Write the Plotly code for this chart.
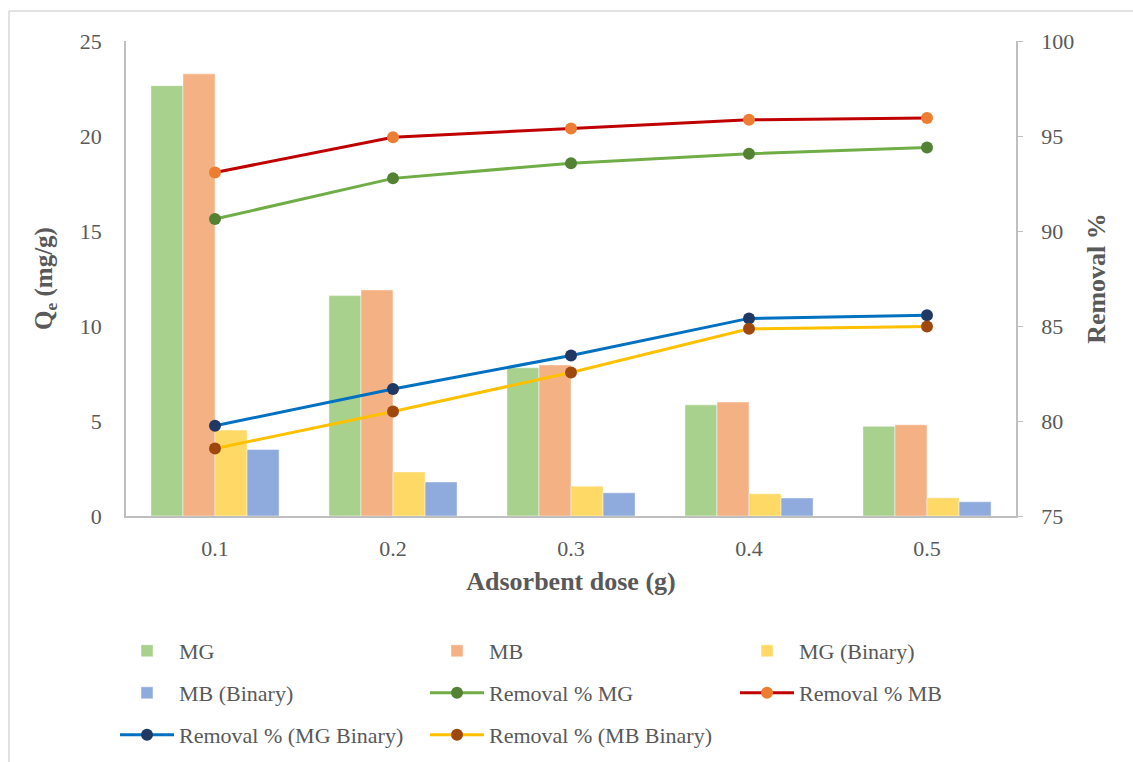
import plotly.graph_objects as go

# Adsorbent dose categories (g)
doses = ["0.1", "0.2", "0.3", "0.4", "0.5"]

# Adsorption capacity Qe (mg/g)
qe_mg = [22.65, 11.6, 7.8, 5.85, 4.72]
qe_mb = [23.27, 11.9, 7.95, 6.0, 4.8]
qe_mg_binary = [4.52, 2.32, 1.57, 1.17, 0.96]
qe_mb_binary = [3.5, 1.79, 1.22, 0.95, 0.75]

# Removal efficiency (%)
rem_mg = [90.63, 92.77, 93.57, 94.07, 94.4]
rem_mb = [93.08, 94.93, 95.4, 95.85, 95.95]
rem_mg_binary = [79.75, 81.68, 83.45, 85.4, 85.57]
rem_mb_binary = [78.55, 80.5, 82.55, 84.85, 84.97]

FONT = "Liberation Serif, Times New Roman, serif"
GREY = "#595959"
AXIS = "#bfbfbf"

# plot area in pixels (for placing legend rows and frame lines)
L, R, T, B = 126, 1016, 41, 516
PW, PH = R - L, B - T


def px_x(x):
    return (x - L) / PW


def px_y(y):
    return (B - y) / PH


fig = go.Figure()

bar_series = [
    ("MG", qe_mg, "#A9D18E", "legend"),
    ("MB", qe_mb, "#F4B183", "legend"),
    ("MG (Binary)", qe_mg_binary, "#FFD966", "legend"),
    ("MB (Binary)", qe_mb_binary, "#8FAADC", "legend2"),
]
for name, vals, color, leg in bar_series:
    fig.add_trace(go.Bar(
        x=doses, y=vals, name=name, legend=leg,
        marker=dict(color=color, line=dict(color="rgba(255,255,255,0.6)", width=0.8)),
    ))

line_series = [
    ("Removal % MG", rem_mg, "#70AD47", "#548235", "legend2"),
    ("Removal % MB", rem_mb, "#C00000", "#ED7D31", "legend2"),
    ("Removal % (MG Binary)", rem_mg_binary, "#0070C0", "#1F3864", "legend3"),
    ("Removal % (MB Binary)", rem_mb_binary, "#FFC000", "#9E480E", "legend3"),
]
for name, vals, lcolor, mcolor, leg in line_series:
    fig.add_trace(go.Scatter(
        x=doses, y=vals, name=name, legend=leg, yaxis="y2",
        mode="lines+markers",
        line=dict(color=lcolor, width=3),
        marker=dict(color=mcolor, size=12),
    ))

legend_common = dict(
    orientation="h", xref="paper", yref="paper",
    x=px_x(115), xanchor="left", yanchor="middle",
    entrywidth=241, entrywidthmode="pixels",
    font=dict(family=FONT, size=22, color=GREY),
    bgcolor="rgba(0,0,0,0)", itemwidth=54,
)

fig.update_layout(
    width=1133, height=762,
    margin=dict(l=L, r=1133 - R, t=T, b=762 - B, autoexpand=False),
    paper_bgcolor="white", plot_bgcolor="white",
    barmode="group", bargap=0.28, bargroupgap=0,
    font=dict(family=FONT, color=GREY),
    legend=dict(legend_common, y=px_y(651)),
    legend2=dict(legend_common, y=px_y(693)),
    legend3=dict(legend_common, y=px_y(735)),
    xaxis=dict(
        type="category", showline=True, linecolor=AXIS, linewidth=1.5,
        ticks="", ticklabelstandoff=12, tickfont=dict(family=FONT, size=22, color=GREY),
        title=dict(text="<b>Adsorbent dose (g)</b>", font=dict(family=FONT, size=26, color=GREY), standoff=12),
        showgrid=False, zeroline=False,
    ),
    yaxis=dict(
        range=[0, 25], dtick=5, showline=True, linecolor=AXIS, linewidth=1.5,
        ticks="", ticklabelstandoff=18, showgrid=False, zeroline=False,
        tickfont=dict(family=FONT, size=22, color=GREY),
        title=dict(text="<b>Q<sub>e</sub> (mg/g)</b>", font=dict(family=FONT, size=25, color=GREY), standoff=20),
    ),
    yaxis2=dict(
        range=[75, 100], dtick=5, overlaying="y", side="right",
        showline=True, linecolor=AXIS, linewidth=1.5,
        ticks="outside", ticklen=5, tickcolor=AXIS, ticklabelstandoff=14,
        showgrid=False, zeroline=False,
        tickfont=dict(family=FONT, size=22, color=GREY),
        title=dict(text="<b>Removal %</b>", font=dict(family=FONT, size=26, color=GREY), standoff=14),
    ),
    shapes=[
        dict(type="line", xref="paper", yref="paper",
             x0=px_x(9), x1=px_x(1140), y0=px_y(11), y1=px_y(11),
             line=dict(color="#d9d9d9", width=1.5)),
        dict(type="line", xref="paper", yref="paper",
             x0=px_x(9), x1=px_x(9), y0=px_y(11), y1=px_y(770),
             line=dict(color="#d9d9d9", width=1.5)),
    ],
)

fig.write_html("out.html")
